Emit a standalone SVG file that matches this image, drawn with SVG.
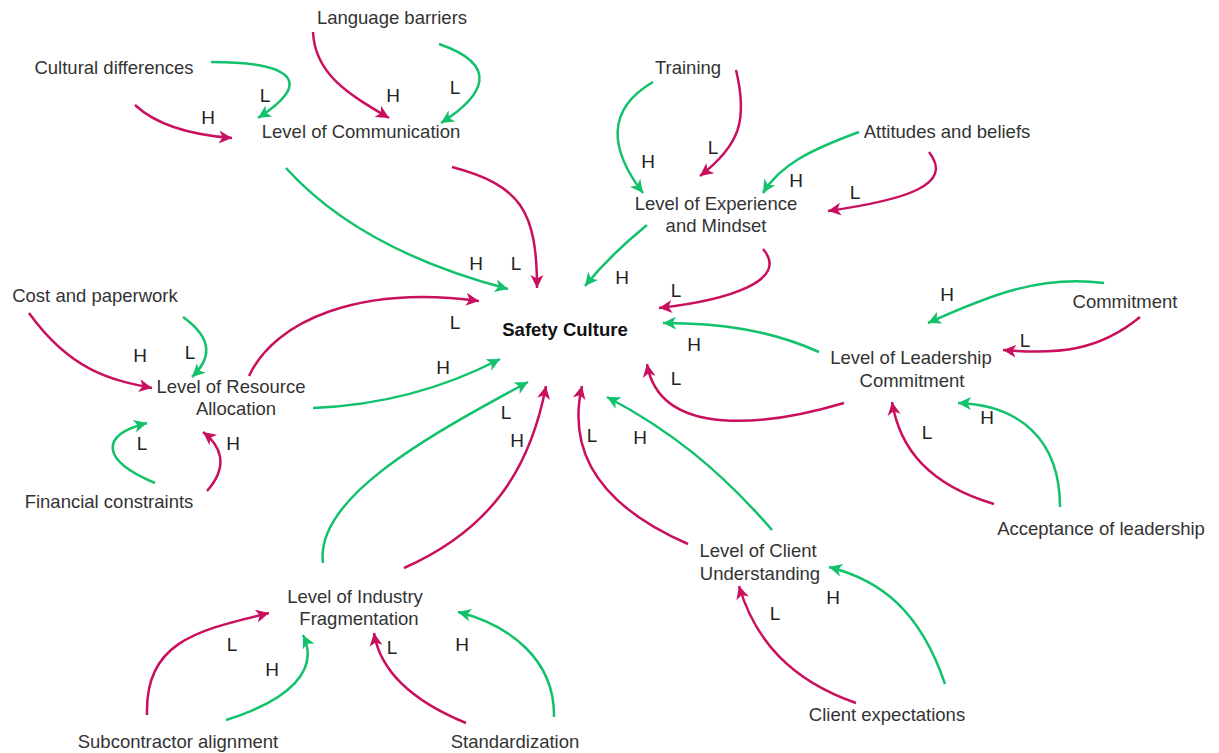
<svg xmlns="http://www.w3.org/2000/svg" width="1219" height="753" viewBox="0 0 1219 753">
<style>
.t{font-family:"Liberation Sans",Arial,sans-serif;font-size:18.5px;fill:#333;text-anchor:middle}
.b{font-weight:bold;fill:#111}
.lb{font-family:"Liberation Sans",Arial,sans-serif;font-size:19px;fill:#222;text-anchor:middle}
.g{fill:none;stroke:#12c16b;stroke-width:2.5;marker-end:url(#ag)}
.m{fill:none;stroke:#c9105f;stroke-width:2.5;marker-end:url(#am)}
</style>
<defs>
<marker id="ag" markerUnits="userSpaceOnUse" markerWidth="16" markerHeight="14" refX="13" refY="6.5" orient="auto"><path d="M0,0 L13,6.5 L0,13 L3.5,6.5 z" fill="#12c16b"/></marker>
<marker id="am" markerUnits="userSpaceOnUse" markerWidth="16" markerHeight="14" refX="13" refY="6.5" orient="auto"><path d="M0,0 L13,6.5 L0,13 L3.5,6.5 z" fill="#c9105f"/></marker>
</defs>
<rect width="1219" height="753" fill="#fff"/>
<g id="connectors">
<path class="g" d="M211,62 C300,62 310,85 258,118"/>
<path class="m" d="M135,105 Q165,133 232,138"/>
<path class="m" d="M313,32 C315,75 350,95 389,118"/>
<path class="g" d="M439,44 C500,65 485,95 441,123"/>
<path class="g" d="M286,168 Q360,250 508,289"/>
<path class="m" d="M452,167 C520,185 537,210 537,288"/>
<path class="g" d="M653,82 C605,110 610,150 643,193"/>
<path class="m" d="M736,70 C748,120 740,145 700,176"/>
<path class="g" d="M859,132 C810,150 780,165 763,193"/>
<path class="m" d="M929,152 C955,185 905,200 828,211"/>
<path class="g" d="M647,225 Q610,255 585,286"/>
<path class="m" d="M763,249 C790,280 730,300 659,308"/>
<path class="m" d="M29,313 C70,370 110,380 152,388"/>
<path class="g" d="M183,317 C215,340 210,360 192,377"/>
<path class="m" d="M249,376 C275,320 360,285 479,301"/>
<path class="g" d="M313,408 C390,405 450,385 500,359"/>
<path class="g" d="M155,483 C100,460 100,435 147,423"/>
<path class="m" d="M207,491 C230,465 220,445 203,432"/>
<path class="g" d="M1104,283 C1040,275 990,295 928,323"/>
<path class="m" d="M1140,317 C1100,350 1060,355 1003,350"/>
<path class="g" d="M819,352 C770,330 720,323 663,323"/>
<path class="m" d="M844,403 C770,425 660,440 647,364"/>
<path class="m" d="M994,504 C930,485 900,450 892,402"/>
<path class="g" d="M1060,507 C1060,440 1020,405 958,403"/>
<path class="g" d="M772,530 C720,470 670,430 607,397"/>
<path class="m" d="M688,544 C610,510 565,460 582,386"/>
<path class="m" d="M856,703 C790,680 755,640 739,586"/>
<path class="g" d="M945,684 C920,610 880,580 829,567"/>
<path class="g" d="M323,563 C315,500 420,440 528,382"/>
<path class="m" d="M404,568 C490,530 530,470 546,386"/>
<path class="m" d="M147,715 C145,640 200,630 269,613"/>
<path class="g" d="M226,720 C290,700 320,670 303,635"/>
<path class="m" d="M466,723 C410,700 380,670 374,633"/>
<path class="g" d="M554,717 C555,660 510,625 458,612"/>
</g>
<g id="labels">
<text class="lb" x="265" y="102">L</text>
<text class="lb" x="208" y="124">H</text>
<text class="lb" x="393" y="102">H</text>
<text class="lb" x="455" y="94">L</text>
<text class="lb" x="476" y="270">H</text>
<text class="lb" x="516" y="270">L</text>
<text class="lb" x="622" y="284">H</text>
<text class="lb" x="676" y="297">L</text>
<text class="lb" x="694" y="351">H</text>
<text class="lb" x="676" y="385">L</text>
<text class="lb" x="455" y="329">L</text>
<text class="lb" x="443" y="374">H</text>
<text class="lb" x="506" y="419">L</text>
<text class="lb" x="517" y="447">H</text>
<text class="lb" x="592" y="442">L</text>
<text class="lb" x="640" y="444">H</text>
<text class="lb" x="648" y="168">H</text>
<text class="lb" x="713" y="154">L</text>
<text class="lb" x="796" y="187">H</text>
<text class="lb" x="855" y="199">L</text>
<text class="lb" x="140" y="362">H</text>
<text class="lb" x="190" y="359">L</text>
<text class="lb" x="142" y="450">L</text>
<text class="lb" x="233" y="450">H</text>
<text class="lb" x="947" y="301">H</text>
<text class="lb" x="1025" y="347">L</text>
<text class="lb" x="927" y="439">L</text>
<text class="lb" x="987" y="424">H</text>
<text class="lb" x="775" y="620">L</text>
<text class="lb" x="833" y="604">H</text>
<text class="lb" x="232" y="651">L</text>
<text class="lb" x="272" y="676">H</text>
<text class="lb" x="392" y="654">L</text>
<text class="lb" x="462" y="651">H</text>
</g>
<g id="n-language"><text class="t" x="392" y="24">Language barriers</text></g>
<g id="n-cultural"><text class="t" x="114" y="74">Cultural differences</text></g>
<g id="n-communication"><text class="t" x="361" y="138">Level of Communication</text></g>
<g id="n-training"><text class="t" x="688" y="74">Training</text></g>
<g id="n-attitudes"><text class="t" x="947" y="138">Attitudes and beliefs</text></g>
<g id="n-experience"><text class="t" x="716" y="210">Level of Experience</text><text class="t" x="716" y="232">and Mindset</text></g>
<g id="n-safety"><text class="t b" x="565" y="336">Safety Culture</text></g>
<g id="n-cost"><text class="t" x="95" y="302">Cost and paperwork</text></g>
<g id="n-resource"><text class="t" x="231" y="393">Level of Resource</text><text class="t" x="236" y="415">Allocation</text></g>
<g id="n-financial"><text class="t" x="109" y="508">Financial constraints</text></g>
<g id="n-commitment"><text class="t" x="1125" y="308">Commitment</text></g>
<g id="n-leadership"><text class="t" x="911" y="364">Level of Leadership</text><text class="t" x="912" y="387">Commitment</text></g>
<g id="n-acceptance"><text class="t" x="1101" y="535">Acceptance of leadership</text></g>
<g id="n-client"><text class="t" x="758" y="557">Level of Client</text><text class="t" x="760" y="580">Understanding</text></g>
<g id="n-clientexp"><text class="t" x="887" y="721">Client expectations</text></g>
<g id="n-industry"><text class="t" x="355" y="603">Level of Industry</text><text class="t" x="359" y="625">Fragmentation</text></g>
<g id="n-subcontractor"><text class="t" x="178" y="748">Subcontractor alignment</text></g>
<g id="n-standardization"><text class="t" x="515" y="748">Standardization</text></g>
</svg>
